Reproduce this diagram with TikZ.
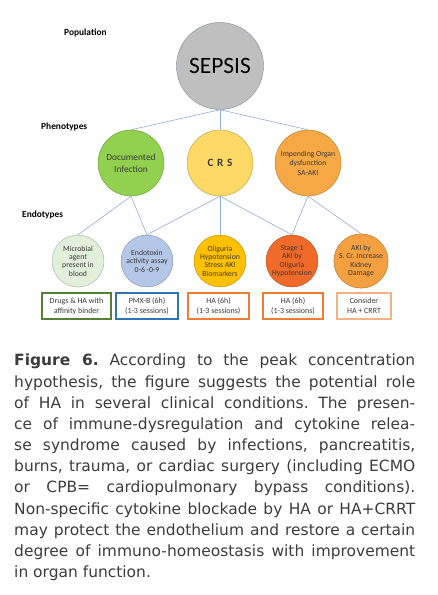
\documentclass[tikz,border=0pt]{standalone}
\usepackage{fontspec}
\setmainfont{Carlito}
\newfontfamily\capfont{DejaVu Sans}

\definecolor{linkblue}{HTML}{8FAADC}
\definecolor{textgray}{HTML}{3A3A3A}
\definecolor{captext}{HTML}{3C3C3C}
\definecolor{sepsisgray}{HTML}{BFBFBF}
\definecolor{infgreen}{HTML}{92D050}
\definecolor{crsyellow}{HTML}{FFD966}
\definecolor{organorange}{HTML}{F5A844}
\definecolor{microgreen}{HTML}{E2EFDA}
\definecolor{toxinblue}{HTML}{B4C7E7}
\definecolor{oligold}{HTML}{FFC000}
\definecolor{stageorange}{HTML}{F06B29}
\definecolor{akiorange}{HTML}{F5A040}
\definecolor{boxgreen}{HTML}{548235}
\definecolor{boxblue}{HTML}{2E75B6}
\definecolor{boxorange}{HTML}{ED7D31}
\definecolor{boxpeach}{HTML}{F4B183}

\begin{document}
\begin{tikzpicture}[
    x=0.3mm, y=-0.3mm,
    every node/.style={font=\fontsize{6.6}{7.2}\selectfont, text=textgray},
    level/.style={font=\fontsize{8}{9}\selectfont\bfseries, text=black, anchor=west, inner sep=0pt},
    link/.style={draw=linkblue, line width=0.5pt},
    phen/.style={circle, draw=#1!75!black, fill=#1, minimum size=19.8mm, inner sep=0pt, align=center},
    endo/.style={circle, draw=#1!75!black, fill=#1, minimum size=15.6mm, inner sep=0pt, align=center},
    therapy/.style={draw=#1, line width=1.2pt, minimum height=7.8mm, inner sep=1pt, align=center,
        font=\fontsize{6.8}{8.4}\selectfont},
    caption/.style={font=\capfont\fontsize{13.2}{18.05}\selectfont, text=captext,
        text width=120.3mm, align=justify, inner sep=0pt}
]

\useasboundingbox (0,0) rectangle (437,595);

% ============================================================
% Ebenen (Beschriftung links)
% ============================================================
\node[level] (population) at (64,33) {Population};
\node[level] (phenotypes) at (41,127) {Phenotypes};
\node[level] (endotypes) at (22,215) {Endotypes};

% ============================================================
% Population
% ============================================================
\node[circle, draw=sepsisgray!60!linkblue!80!black, fill=sepsisgray, minimum size=26.1mm,
      inner sep=0pt, font=\fontsize{20}{22}\selectfont, text=black]
    (sepsis) at (220,66) {SEPSIS};

% ============================================================
% Phaenotypen
% ============================================================
\node[phen=infgreen, font=\fontsize{8}{10.2}\selectfont] (infection) at (131,163)
    {Documented\\Infection};
\node[phen=crsyellow, font=\fontsize{9.5}{10}\selectfont\bfseries] (crs) at (220,163)
    {C\,\,R\,\,S};
\node[phen=organorange, font=\fontsize{6.6}{8}\selectfont] (organ) at (308,163)
    {Impending Organ\\dysfunction\\SA-AKI};

\draw[link] (sepsis.south) -- (infection.north);
\draw[link] (sepsis.south) -- (crs.north);
\draw[link] (sepsis.south) -- (organ.north);

% ============================================================
% Endotypen
% ============================================================
\node[endo=microgreen] (microbial) at (78,261)
    {Microbial\\agent\\present in\\blood};
\node[endo=toxinblue] (endotoxin) at (147,261)
    {Endotoxin\\activity assay\\0-6 -0-9};
\node[endo=oligold] (oliguria) at (220,261)
    {Oliguria\\Hypotension\\Stress AKI\\Biomarkers};
\node[endo=stageorange] (stage) at (292,261)
    {Stage 1\\AKI by\\Oliguria\\Hypotension};
\node[endo=akiorange] (aki) at (361,261)
    {AKI by\\S. Cr. Increase\\Kidney\\Damage};

\draw[link] (infection.south) -- (microbial.north);
\draw[link] (infection.south) -- (endotoxin.north);
\draw[link] (crs.south) -- (endotoxin.north);
\draw[link] (crs.south) -- (oliguria.north);
\draw[link] (crs.south) -- (stage.north);
\draw[link] (organ.south) -- (stage.north);
\draw[link] (organ.south) -- (aki.north);

% ============================================================
% Therapie
% ============================================================
\node[therapy=boxgreen, minimum width=20.7mm] (drugs) at (76.5,306)
    {Drugs \& HA with\\affinity binder};
\node[therapy=boxblue, minimum width=18.6mm] (pmx) at (147,306)
    {PMX-B (6h)\\(1-3 sessions)};
\node[therapy=boxorange, minimum width=18.3mm] (hafirst) at (218.5,306)
    {HA (6h)\\(1-3 sessions)};
\node[therapy=boxorange, minimum width=18mm] (hasecond) at (293,306)
    {HA (6h)\\(1-3 sessions)};
\node[therapy=boxpeach, minimum width=16.2mm] (consider) at (364,306)
    {Consider\\HA + CRRT};

% ============================================================
% Legende
% ============================================================
\node[caption, anchor=north west] (legend) at (14,354)
{\hyphenpenalty=10000 \tolerance=10000 \frenchspacing
{\bfseries Figure 6.} According to the peak concentration\linebreak
hypothesis, the figure suggests the potential role\linebreak
of HA in several clinical conditions. The presen-\linebreak
ce of immune-dysregulation and cytokine relea-\linebreak
se syndrome caused by infections, pancreatitis,\linebreak
burns, trauma, or cardiac surgery (including ECMO\linebreak
or CPB= cardiopulmonary bypass conditions).\linebreak
Non-specific cytokine blockade by HA or HA+CRRT\linebreak
may protect the endothelium and restore a certain\linebreak
degree of immuno-homeostasis with improvement\linebreak
in organ function.};

\end{tikzpicture}
\end{document}
